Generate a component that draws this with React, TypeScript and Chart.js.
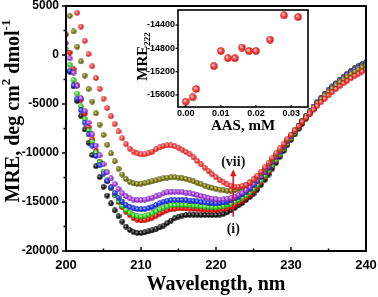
import React, { useEffect, useRef } from 'react';
import { Chart, registerables } from 'chart.js';

Chart.register(...registerables);

// ---- data ----
const wavelengths: number[] = Array.from({ length: 81 }, (_, i) => 200 + i * 0.5);

const seriesNames = ['(i)', '(ii)', '(iii)', '(iv)', '(v)', '(vi)', '(vii)'];

const mreI = [null, -1700, -3200, -4700, -6200, -7600, -8950, -10200, -11350, -12450, -13450, -14350, -15150, -15850, -16450, -17000, -17500, -17850, -18050, -18150, -18150, -18100, -18000, -17900, -17780, -17600, -17400, -17150, -16900, -16650, -16480, -16380, -16330, -16300, -16300, -16300, -16310, -16320, -16330, -16330, -16320, -16280, -16200, -16050, -15850, -15600, -15350, -15100, -14800, -14500, -14150, -13750, -13250, -12750, -12200, -11600, -11000, -10400, -9800, -9200, -8650, -8100, -7550, -7020, -6500, -5990, -5500, -5030, -4570, -4120, -3700, -3300, -2930, -2570, -2230, -1900, -1600, -1340, -1120, -930, -750];

const mreII = [2100, 250, -1450, -3100, -4550, -6000, -7350, -8600, -9800, -10900, -11950, -12900, -13600, -14300, -15000, -15550, -16000, -16350, -16650, -16800, -16880, -16850, -16750, -16600, -16400, -16200, -16000, -15850, -15750, -15680, -15650, -15650, -15660, -15680, -15700, -15730, -15760, -15790, -15810, -15820, -15810, -15780, -15720, -15620, -15480, -15300, -15100, -14850, -14580, -14270, -13900, -13480, -13000, -12480, -11930, -11360, -10780, -10200, -9630, -9060, -8500, -7960, -7420, -6900, -6400, -5920, -5460, -5020, -4600, -4200, -3820, -3450, -3120, -2800, -2500, -2220, -1960, -1720, -1500, -1300, -1100];

const mreIII = [600, -1000, -2550, -3950, -5250, -6500, -7700, -8850, -9950, -10950, -11900, -12800, -13550, -14300, -14900, -15400, -15800, -16100, -16350, -16450, -16480, -16420, -16300, -16150, -15950, -15750, -15580, -15450, -15350, -15300, -15280, -15290, -15310, -15330, -15360, -15400, -15440, -15480, -15510, -15530, -15530, -15500, -15430, -15320, -15170, -15000, -14800, -14570, -14300, -13990, -13640, -13240, -12790, -12300, -11780, -11240, -10690, -10130, -9570, -9010, -8460, -7910, -7370, -6840, -6320, -5820, -5330, -4860, -4400, -3960, -3560, -3200, -2860, -2540, -2240, -1960, -1700, -1460, -1230, -1020, -820];

const mreIV = [null, -1600, -3100, -4450, -5650, -6900, -8100, -9250, -10300, -11250, -12100, -12850, -13500, -14050, -14550, -14950, -15300, -15500, -15650, -15720, -15750, -15720, -15620, -15480, -15300, -15120, -14970, -14870, -14810, -14790, -14790, -14800, -14820, -14850, -14890, -14940, -14990, -15040, -15090, -15120, -15130, -15110, -15050, -14950, -14810, -14640, -14440, -14210, -13940, -13630, -13280, -12890, -12450, -11980, -11480, -10960, -10430, -9890, -9350, -8810, -8270, -7740, -7220, -6710, -6210, -5730, -5260, -4820, -4400, -4000, -3620, -3260, -2920, -2600, -2300, -2020, -1760, -1520, -1290, -1080, -880];

const mreV = [1200, -350, -1800, -3150, -4400, -5700, -6900, -8100, -9250, -10250, -11150, -11950, -12600, -13150, -13650, -14100, -14420, -14630, -14750, -14800, -14800, -14760, -14680, -14560, -14420, -14270, -14130, -14030, -13970, -13950, -13960, -13990, -14040, -14110, -14190, -14280, -14380, -14480, -14580, -14660, -14720, -14750, -14740, -14690, -14590, -14450, -14270, -14050, -13790, -13490, -13150, -12770, -12340, -11880, -11390, -10880, -10360, -9830, -9300, -8770, -8240, -7720, -7210, -6710, -6220, -5750, -5290, -4850, -4430, -4030, -3650, -3290, -2950, -2630, -2330, -2050, -1800, -1570, -1350, -1150, -960];

const mreVI = [null, 4000, 2400, 850, -650, -2100, -3450, -4750, -5950, -7100, -8150, -9150, -10050, -10850, -11600, -12200, -12650, -12950, -13100, -13150, -13130, -13080, -13000, -12900, -12800, -12700, -12600, -12530, -12490, -12480, -12500, -12560, -12650, -12770, -12900, -13040, -13180, -13320, -13450, -13560, -13650, -13730, -13800, -13850, -13850, -13790, -13680, -13520, -13300, -13040, -12740, -12400, -12020, -11600, -11150, -10680, -10190, -9690, -9190, -8690, -8190, -7700, -7210, -6730, -6260, -5800, -5360, -4930, -4520, -4130, -3760, -3410, -3080, -2770, -2480, -2210, -1950, -1710, -1480, -1260, -1060];

const mreVII = [null, null, null, 4300, 2900, 1450, 100, -1150, -2350, -3450, -4450, -5400, -6250, -7050, -7800, -8500, -9100, -9550, -9850, -10050, -10150, -10130, -10020, -9850, -9620, -9420, -9280, -9220, -9230, -9320, -9450, -9650, -9900, -10150, -10450, -10800, -11150, -11500, -11850, -12180, -12480, -12770, -13010, -13210, -13360, -13440, -13440, -13370, -13230, -13000, -12700, -12330, -11900, -11450, -10980, -10500, -10020, -9540, -9060, -8590, -8130, -7680, -7240, -6810, -6390, -5980, -5580, -5190, -4820, -4460, -4120, -3790, -3480, -3180, -2900, -2630, -2380, -2140, -1910, -1690, -1480];

const allSeries = [mreI, mreII, mreIII, mreIV, mreV, mreVI, mreVII];

const xMajorTicks = [200, 210, 220, 230, 240];
const xMinorTicks = [205, 215, 225, 235];
const yMajorTicks = [5000, 0, -5000, -10000, -15000, -20000];
const yMinorTicks = [2500, -2500, -7500, -12500, -17500];

// inset
const aasConc = [0.0, 0.002, 0.003, 0.008, 0.01, 0.012, 0.014, 0.016, 0.018, 0.02, 0.024, 0.028, 0.032];
const mre222 = [-15714, -15640, -15498, -15106, -14846, -14970, -14970, -14788, -14846, -14846, -14652, -14235, -14264];
const insetXTicks = [0, 0.01, 0.02, 0.03];
const insetYTicks = [-15600, -15200, -14800, -14400];

// ---- styles ----
const ballColors = [
  { light: '#bdbdbd', base: '#1e1e1e', dark: '#000000' },
  { light: '#ffc8c8', base: '#ff1010', dark: '#a00000' },
  { light: '#e4ffd8', base: '#3fe62b', dark: '#1a8a10' },
  { light: '#d0d8ff', base: '#2442ff', dark: '#0a14a0' },
  { light: '#f2d6ff', base: '#b24cf2', dark: '#6a1a9a' },
  { light: '#e8e8a8', base: '#84841a', dark: '#4a4a00' },
  { light: '#ffe6e6', base: '#ff4646', dark: '#c01414' },
];

const SANS = '"Liberation Sans", Arial, sans-serif';
const SERIF = '"Liberation Serif", "Times New Roman", serif';

function makeBall(c: { light: string; base: string; dark: string }, size: number, r: number) {
  const cv = document.createElement('canvas');
  cv.width = size;
  cv.height = size;
  const g = cv.getContext('2d')!;
  const cx = size / 2;
  const cy = size / 2;
  const grad = g.createRadialGradient(cx - r * 0.3, cy - r * 0.35, r * 0.05, cx, cy, r);
  grad.addColorStop(0, c.light);
  grad.addColorStop(0.5, c.base);
  grad.addColorStop(1, c.dark);
  g.fillStyle = grad;
  g.beginPath();
  g.arc(cx, cy, r, 0, Math.PI * 2);
  g.fill();
  return cv;
}

type Seg = { t: string; font: string; dy: number };
function drawRich(ctx: CanvasRenderingContext2D, segs: Seg[], cx: number, cy: number, rot: number) {
  ctx.save();
  ctx.translate(cx, cy);
  ctx.rotate(rot);
  let total = 0;
  for (const s of segs) {
    ctx.font = s.font;
    total += ctx.measureText(s.t).width;
  }
  let xx = -total / 2;
  ctx.textAlign = 'left';
  ctx.textBaseline = 'alphabetic';
  ctx.fillStyle = '#000';
  for (const s of segs) {
    ctx.font = s.font;
    ctx.fillText(s.t, xx, s.dy);
    xx += ctx.measureText(s.t).width;
  }
  ctx.restore();
}

function line(ctx: CanvasRenderingContext2D, x1: number, y1: number, x2: number, y2: number) {
  ctx.beginPath();
  ctx.moveTo(x1, y1);
  ctx.lineTo(x2, y2);
  ctx.stroke();
}

const mainDecor = {
  id: 'mainDecor',
  afterDraw(chart: any) {
    const { ctx, chartArea: a, scales } = chart;
    const x = scales.x;
    const y = scales.y;
    ctx.save();
    ctx.strokeStyle = '#000';
    ctx.lineWidth = 2;
    ctx.strokeRect(a.left, a.top, a.right - a.left, a.bottom - a.top);
    ctx.lineWidth = 1.5;
    for (const v of xMajorTicks) { const p = x.getPixelForValue(v); line(ctx, p, a.bottom, p, a.bottom - 4); }
    for (const v of xMinorTicks) { const p = x.getPixelForValue(v); line(ctx, p, a.bottom, p, a.bottom - 2.5); }
    for (const v of yMajorTicks) { const p = y.getPixelForValue(v); line(ctx, a.left, p, a.left - 4, p); }
    for (const v of yMinorTicks) { const p = y.getPixelForValue(v); line(ctx, a.left, p, a.left - 2.5, p); }

    // axis titles
    ctx.fillStyle = '#000';
    ctx.font = `bold 20px ${SERIF}`;
    ctx.textAlign = 'center';
    ctx.textBaseline = 'alphabetic';
    ctx.fillText('Wavelength, nm', (a.left + a.right) / 2, a.bottom + 39);
    drawRich(ctx, [
      { t: 'MRE, deg cm', font: `bold 20px ${SERIF}`, dy: 0 },
      { t: '2', font: `bold 13px ${SERIF}`, dy: -9 },
      { t: ' dmol', font: `bold 20px ${SERIF}`, dy: 0 },
      { t: '-1', font: `bold 13px ${SERIF}`, dy: -9 },
    ], 19, 111, -Math.PI / 2);

    // annotation arrow (i) -> (vii)
    const ax = x.getPixelForValue(222.3);
    const yFrom = y.getPixelForValue(-16500);
    const yTip = y.getPixelForValue(-11650);
    ctx.strokeStyle = '#e8141c';
    ctx.fillStyle = '#e8141c';
    ctx.lineWidth = 1.6;
    line(ctx, ax, yFrom, ax, yTip + 6);
    ctx.beginPath();
    ctx.moveTo(ax, yTip);
    ctx.lineTo(ax - 3.2, yTip + 7);
    ctx.lineTo(ax + 3.2, yTip + 7);
    ctx.closePath();
    ctx.fill();
    ctx.fillStyle = '#111';
    ctx.font = `bold 14px ${SERIF}`;
    ctx.textAlign = 'center';
    ctx.textBaseline = 'middle';
    ctx.fillText('(vii)', ax, y.getPixelForValue(-10950));
    ctx.fillText('(i)', ax, y.getPixelForValue(-17800));
    ctx.restore();
  },
};

const insetDecor = {
  id: 'insetDecor',
  beforeDatasetsDraw(chart: any) {
    const { ctx, chartArea: a } = chart;
    ctx.save();
    ctx.fillStyle = '#fff';
    ctx.fillRect(a.left, a.top, a.right - a.left, a.bottom - a.top);
    ctx.restore();
  },
  afterDraw(chart: any) {
    const { ctx, chartArea: a, scales } = chart;
    const x = scales.x;
    const y = scales.y;
    ctx.save();
    ctx.strokeStyle = '#000';
    ctx.lineWidth = 1.6;
    ctx.strokeRect(a.left, a.top, a.right - a.left, a.bottom - a.top);
    ctx.lineWidth = 1.2;
    for (const v of insetYTicks) { const p = y.getPixelForValue(v); line(ctx, a.left, p, a.left - 2.5, p); }
    for (const v of insetXTicks) { const p = x.getPixelForValue(v); line(ctx, p, a.bottom, p, a.bottom - 2); }
    ctx.fillStyle = '#000';
    ctx.font = `bold 15px ${SERIF}`;
    ctx.textAlign = 'center';
    ctx.textBaseline = 'alphabetic';
    ctx.fillText('AAS, mM', (a.left + a.right) / 2, 130);
    drawRich(ctx, [
      { t: 'MRE', font: `bold 15px ${SERIF}`, dy: 0 },
      { t: '222', font: `bold 9px ${SERIF}`, dy: 3 },
    ], a.left - 31, (a.top + a.bottom) / 2 - 2, -Math.PI / 2);
    ctx.restore();
  },
};

export default function App() {
  const mainRef = useRef<HTMLCanvasElement | null>(null);
  const insetRef = useRef<HTMLCanvasElement | null>(null);

  useEffect(() => {
    const balls = ballColors.map((c) => makeBall(c, 6, 2.7));
    const insetBall = makeBall(ballColors[6], 8, 3.7);

    const datasets = allSeries.map((vals, i) => ({
      label: seriesNames[i],
      data: wavelengths
        .map((w, j) => ({ x: w, y: vals[j] as number | null }))
        .filter((p) => p.y !== null),
      pointStyle: balls[i],
      pointRadius: 3,
      showLine: false,
      order: 6 - i,
    }));

    const main = new Chart(mainRef.current!, {
      type: 'scatter',
      data: { datasets: datasets as any },
      options: {
        animation: false,
        responsive: false,
        devicePixelRatio: 1,
        layout: { padding: { top: 6, right: 12, left: 0, bottom: 0 } },
        plugins: { legend: { display: false }, tooltip: { enabled: false } },
        scales: {
          x: {
            type: 'linear',
            min: 200,
            max: 240,
            afterFit: (s: any) => { s.height = 46; s.paddingLeft = 0; s.paddingRight = 0; },
            afterBuildTicks: (s: any) => { s.ticks = xMajorTicks.map((v) => ({ value: v })); },
            grid: { display: false, drawTicks: false },
            border: { display: false },
            ticks: {
              padding: 7,
              color: '#000',
              font: { family: SANS, size: 13, weight: 'bold' },
              maxRotation: 0,
              autoSkip: false,
              callback: (v: any) => String(v),
            },
          },
          y: {
            type: 'linear',
            min: -20000,
            max: 5000,
            afterFit: (s: any) => { s.width = 66; s.paddingTop = 0; s.paddingBottom = 0; },
            afterBuildTicks: (s: any) => { s.ticks = yMajorTicks.map((v) => ({ value: v })); },
            grid: { display: false, drawTicks: false },
            border: { display: false },
            ticks: {
              padding: 7,
              color: '#000',
              font: { family: SANS, size: 12, weight: 'bold' },
              autoSkip: false,
              callback: (v: any) => String(v),
            },
          },
        },
      },
      plugins: [mainDecor],
    });

    const inset = new Chart(insetRef.current!, {
      type: 'scatter',
      data: {
        datasets: [
          {
            label: 'MRE222',
            data: aasConc.map((c, i) => ({ x: c, y: mre222[i] })),
            pointStyle: insetBall as any,
            pointRadius: 4,
            showLine: false,
          },
        ],
      },
      options: {
        animation: false,
        responsive: false,
        devicePixelRatio: 1,
        layout: { padding: { top: 10, right: 12, left: 0, bottom: 0 } },
        plugins: { legend: { display: false }, tooltip: { enabled: false } },
        scales: {
          x: {
            type: 'linear',
            min: -0.0022,
            max: 0.0348,
            afterFit: (s: any) => { s.height = 33; s.paddingLeft = 0; s.paddingRight = 0; },
            afterBuildTicks: (s: any) => { s.ticks = insetXTicks.map((v) => ({ value: v })); },
            grid: { display: false, drawTicks: false },
            border: { display: false },
            ticks: {
              padding: 1,
              color: '#000',
              font: { family: SANS, size: 9, weight: 'bold' },
              maxRotation: 0,
              autoSkip: false,
              callback: (v: any) => Number(v).toFixed(2),
            },
          },
          y: {
            type: 'linear',
            min: -15806,
            max: -14143,
            afterFit: (s: any) => { s.width = 68; s.paddingTop = 0; s.paddingBottom = 0; },
            afterBuildTicks: (s: any) => { s.ticks = insetYTicks.map((v) => ({ value: v })); },
            grid: { display: false, drawTicks: false },
            border: { display: false },
            ticks: {
              padding: 3,
              color: '#000',
              font: { family: SANS, size: 9, weight: 'bold' },
              autoSkip: false,
              callback: (v: any) => String(v),
            },
          },
        },
      },
      plugins: [insetDecor],
    });

    return () => {
      main.destroy();
      inset.destroy();
    };
  }, []);

  return (
    <div style={{ position: 'fixed', left: 0, top: 0, width: 378, height: 297, background: '#fff' }}>
      <canvas ref={mainRef} width={378} height={297} style={{ display: 'block', width: 378, height: 297 }} />
      <canvas
        ref={insetRef}
        width={210}
        height={140}
        style={{ position: 'absolute', left: 110, top: 0, width: 210, height: 140 }}
      />
    </div>
  );
}
